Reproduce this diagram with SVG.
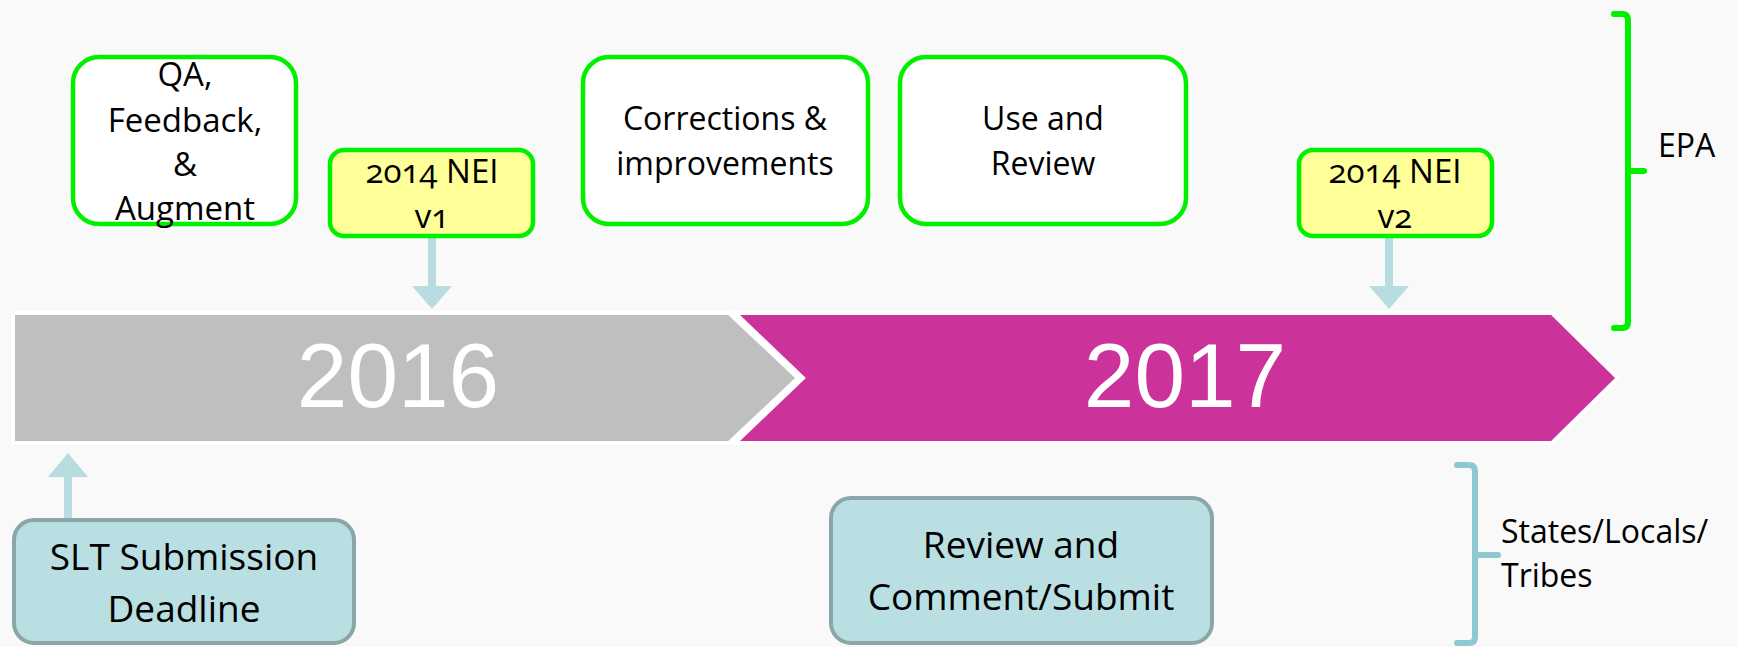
<svg xmlns="http://www.w3.org/2000/svg" width="1737" height="647" viewBox="0 0 1737 647">
<style>
.bg{fill:#f9f9f9}
.epa{fill:#ffffff;stroke:#00f000;stroke-width:4.5}
.nei{fill:#ffff99;stroke:#00f000;stroke-width:4.5}
.slt{fill:#b9dfe2;stroke:#8ba6a8;stroke-width:4}
.t{font-family:"Open Sans","Noto Sans",sans-serif;font-size:32px;fill:#000;text-anchor:middle}
.tb{font-family:"Open Sans","Noto Sans",sans-serif;font-size:37px;fill:#000;text-anchor:middle}
.num{font-variant-numeric:oldstyle-nums}
.yr{font-family:"Liberation Sans",Arial,sans-serif;font-size:91px;fill:#ffffff;text-anchor:middle}
.lbl{font-family:"Open Sans","Noto Sans",sans-serif;font-size:32px;fill:#000}
.arr{fill:#b7dde0}
.br{fill:none;stroke-width:6;stroke-linecap:round;stroke-linejoin:round}
</style>
<rect class="bg" x="0" y="0" width="1737" height="647"/>

<g id="timeline">
  <path d="M735,313 L1552,313 L1618,378 L1552,443 L735,443 L803,378 Z" fill="#cb339b" stroke="#ffffff" stroke-width="4"/>
  <path d="M13,313 L729,313 L798,378 L729,443 L13,443 Z" fill="#bfbfbf" stroke="#ffffff" stroke-width="4"/>
  <text class="yr" x="398" y="407">2016</text>
  <text class="yr" x="1185" y="407">2017</text>
</g>

<g id="connectors">
  <path class="arr" d="M428,238 H436 V286 H452 L432,309 L412,286 H428 Z"/>
  <path class="arr" d="M1385,238 H1393 V286 H1409 L1389,309 L1369,286 H1385 Z"/>
  <path class="arr" d="M64,518 H72 V477 H88 L68,453 L48,477 H64 Z"/>
</g>

<g id="qa">
  <rect class="epa" x="73" y="57" width="223" height="167" rx="26"/>
  <text class="t" x="185" y="86" style="font-size:33px">QA,</text>
  <text class="t" x="185" y="132" style="font-size:33px">Feedback,</text>
  <text class="t" x="185" y="176" style="font-size:33px">&amp;</text>
  <text class="t" x="185" y="220" style="font-size:33px">Augment</text>
</g>

<g id="nei-v1">
  <rect class="nei" x="330" y="150" width="203" height="86" rx="14"/>
  <text class="t" x="432" y="183" style="font-size:33px"><tspan class="num">2014</tspan> NEI</text>
  <text class="t num" x="432" y="228" style="font-size:33px">v1</text>
</g>

<g id="corrections">
  <rect class="epa" x="583" y="57" width="285" height="167" rx="26"/>
  <text class="t" x="725" y="130">Corrections &amp;</text>
  <text class="t" x="725" y="175">improvements</text>
</g>

<g id="use-review">
  <rect class="epa" x="900" y="57" width="286" height="167" rx="26"/>
  <text class="t" x="1043" y="130">Use and</text>
  <text class="t" x="1043" y="175">Review</text>
</g>

<g id="nei-v2">
  <rect class="nei" x="1299" y="150" width="193" height="86" rx="14"/>
  <text class="t" x="1395" y="183" style="font-size:33px"><tspan class="num">2014</tspan> NEI</text>
  <text class="t num" x="1395" y="228" style="font-size:33px">v2</text>
</g>

<g id="epa-bracket">
  <path class="br" stroke="#00f000" d="M1614,14 H1622 Q1628,14 1628,20 V322 Q1628,328 1622,328 H1614 M1628,171 H1644"/>
  <text class="lbl" x="1658" y="157">EPA</text>
</g>

<g id="slt">
  <rect class="slt" x="14" y="520" width="340" height="123" rx="20"/>
  <text class="tb" x="184" y="570">SLT Submission</text>
  <text class="tb" x="184" y="622">Deadline</text>
</g>

<g id="review-comment">
  <rect class="slt" x="831" y="498" width="381" height="145" rx="20"/>
  <text class="tb" x="1021" y="558">Review and</text>
  <text class="tb" x="1021" y="610">Comment/Submit</text>
</g>

<g id="slt-bracket">
  <path class="br" stroke="#8ec8d0" d="M1457,465 H1469 Q1475,465 1475,471 V637 Q1475,643 1469,643 H1457 M1475,555 H1498"/>
  <text class="lbl" x="1501" y="543">States/Locals/</text>
  <text class="lbl" x="1501" y="587">Tribes</text>
</g>
</svg>
